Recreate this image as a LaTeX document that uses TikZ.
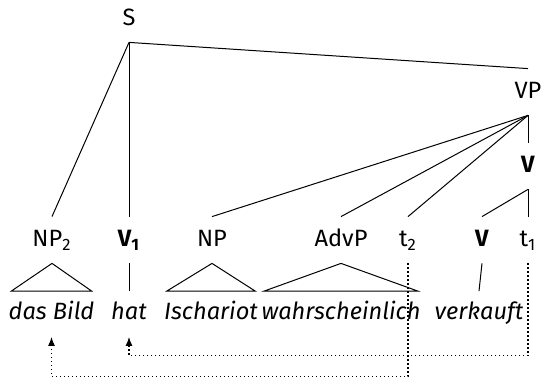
\documentclass[tikz,border=0pt]{standalone}
\usepackage{fontspec}
\setmainfont{Fira Sans}
\usetikzlibrary{arrows.meta}

\begin{document}
\begin{tikzpicture}[x=0.5pt, y=-0.5pt]
	\tikzset{cat/.style={anchor=base, inner xsep=0pt, inner ysep=7.5pt, text height=7.5pt, text depth=0.5pt, font=\fontsize{11.8}{14}\selectfont}}
	\tikzset{word/.style={anchor=base, inner xsep=-1.5pt, inner ysep=6.5pt, text height=7.5pt, text depth=2pt, font=\fontsize{11.8}{14}\selectfont\itshape}}
	\tikzset{branch/.style={line width=0.5pt}}
	\tikzset{trace/.style={->, > = {Latex[length=4.5pt, width=3.5pt]}, line width=0.6pt, dash pattern=on 0.6pt off 1.4pt}}
	\useasboundingbox (0,0) rectangle (541,379);
	%categories
	\node[cat] (S) at (129,26) {S};
	\node[cat] (VP) at (528,99) {VP};
	\node[cat] (vbar) at (528,173) {\textbf{V}};
	\node[cat] (np2) at (52,247) {NP\textsubscript{2}};
	\node[cat] (v1) at (129,247) {\textbf{V\textsubscript{1}}};
	\node[cat] (np) at (212,247) {NP};
	\node[cat] (advp) at (341,247) {AdvP};
	\node[cat] (t2) at (408,247) {t\textsubscript{2}};
	\node[cat] (v) at (482,247) {\textbf{V}};
	\node[cat] (t1) at (528,247) {t\textsubscript{1}};
	%words
	\node[word] (das) at (51.5,319.5) {das Bild};
	\node[word] (hat) at (129,319.5) {hat};
	\node[word] (isch) at (211,319.5) {Ischariot};
	\node[word] (wahr) at (341,319.5) {wahrscheinlich};
	\node[word] (verk) at (479,319.5) {verkauft};
	%branches
	\draw[branch] (S.south) -- (np2.north);
	\draw[branch] (S.south) -- (v1.north);
	\draw[branch] (S.south) -- (VP.north);
	\draw[branch] (VP.south) -- (np.north);
	\draw[branch] (VP.south) -- (advp.north);
	\draw[branch] (VP.south) -- (t2.north);
	\draw[branch] (VP.south) -- (vbar.north);
	\draw[branch] (vbar.south) -- (v.north);
	\draw[branch] (vbar.south) -- (t1.north);
	%leaves
	\draw[branch] (np2.south) -- (das.north west) -- (das.north east) -- cycle;
	\draw[branch] (v1.south) -- (hat.north);
	\draw[branch] (np.south) -- (isch.north west) -- (isch.north east) -- cycle;
	\draw[branch] (advp.south) -- (wahr.north west) -- (wahr.north east) -- cycle;
	\draw[branch] (v.south) -- (verk.north);
	%traces
	\draw[trace] (t2.south) -- (t2 |- 0,376.5) -| (das.south);
	\draw[trace] (t1.south) -- (t1 |- 0,355.5) -| (hat.south);
\end{tikzpicture}
\end{document}
